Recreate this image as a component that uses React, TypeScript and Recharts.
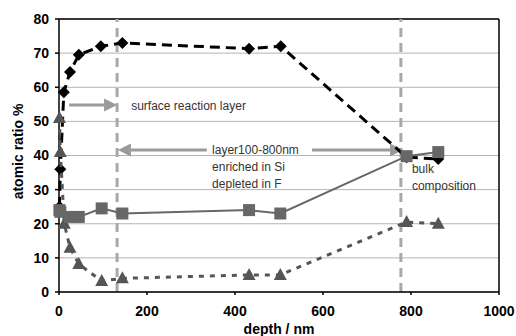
import React from 'react';
import {
  ComposedChart, Scatter, XAxis, YAxis, CartesianGrid, ReferenceLine, ReferenceDot, Label,
} from 'recharts';

// depth (nm) / atomic ratio (%)
const diamondDepth = [1, 3, 11, 25, 45, 95, 144, 432, 504, 790, 862];
const diamondRatio = [25, 36, 58.5, 64.5, 69.5, 72, 73, 71.3, 72, 39.5, 39];

const squareDepth = [1, 3, 25, 45, 97, 144, 432, 503, 790, 862];
const squareRatio = [24, 23.5, 22, 22, 24.5, 23, 24, 23, 39.8, 41];

const triangleDepth = [1, 3, 12, 25, 45, 97, 144, 432, 503, 790, 862];
const triangleRatio = [51, 41, 20, 13, 8.2, 3.2, 4, 5, 5, 20.5, 20];

const xTicks = [0, 200, 400, 600, 800, 1000];
const yTicks = [0, 10, 20, 30, 40, 50, 60, 70, 80];

// annotation layout in data units
const layerBounds = [132, 777];

const toPoints = (xs: number[], ys: number[]) => xs.map((x, i) => ({ x, y: ys[i] }));

const diamondData = toPoints(diamondDepth, diamondRatio);
const squareData = toPoints(squareDepth, squareRatio);
const triangleData = toPoints(triangleDepth, triangleRatio);

const FONT = 'Liberation Sans, Arial, sans-serif';
const ARROW = '#9a9a9a';

const DiamondShape = (p: any) => (
  <polygon
    points={`${p.cx},${p.cy - 6} ${p.cx + 6},${p.cy} ${p.cx},${p.cy + 6} ${p.cx - 6},${p.cy}`}
    fill="#000"
  />
);

const SquareShape = (p: any) => (
  <rect x={p.cx - 6} y={p.cy - 6} width={12} height={12} fill="#676767" />
);

const TriangleShape = (p: any) => (
  <polygon
    points={`${p.cx},${p.cy - 7} ${p.cx + 6.5},${p.cy + 5} ${p.cx - 6.5},${p.cy + 5}`}
    fill="#555"
  />
);

// line with an arrow head at one end
const arrowShape = (head: 'end' | 'start') => (p: any) => {
  const tipX = head === 'end' ? p.x2 : p.x1;
  const dir = head === 'end' ? 1 : -1;
  const baseX = tipX - dir * 13;
  return (
    <g>
      <line
        x1={head === 'end' ? p.x1 : baseX}
        y1={p.y1}
        x2={head === 'end' ? baseX : p.x2}
        y2={p.y2}
        stroke={ARROW}
        strokeWidth={3}
      />
      <polygon points={`${tipX},${p.y1} ${baseX},${p.y1 - 6.5} ${baseX},${p.y1 + 6.5}`} fill={ARROW} />
    </g>
  );
};

const noteShape = (text: string) => (p: any) => (
  <text x={p.cx} y={p.cy} dominantBaseline="central" fontSize={12} fill="#333" fontFamily={FONT}>
    {text}
  </text>
);

const notes = [
  { x: 164, y: 54.6, text: 'surface reaction layer' },
  { x: 348, y: 41.6, text: 'layer100-800nm' },
  { x: 348, y: 36.7, text: 'enriched in Si' },
  { x: 348, y: 31.7, text: 'depleted in F' },
  { x: 802, y: 36, text: 'bulk' },
  { x: 802, y: 31.1, text: 'composition' },
];

const YTitle = (props: any) => {
  const vb = props.viewBox || {};
  const cy = (vb.y ?? 19) + (vb.height ?? 273) / 2 - 4;
  return (
    <text
      x={18}
      y={cy}
      transform={`rotate(-90 18 ${cy})`}
      textAnchor="middle"
      dominantBaseline="central"
      fontSize={14}
      fontWeight="bold"
      fill="#000"
      fontFamily={FONT}
    >
      atomic ratio %
    </text>
  );
};

export default function App() {
  return (
    <div style={{ position: 'absolute', left: 0, top: 0, background: '#fff', fontFamily: FONT }}>
      <ComposedChart width={516} height={336} margin={{ top: 19, right: 17, bottom: 0, left: 0 }}>
        <CartesianGrid vertical={false} stroke="#b4b4b4" strokeWidth={1} />
        <XAxis
          type="number"
          dataKey="x"
          domain={[0, 1000]}
          ticks={xTicks}
          height={44}
          stroke="#000"
          strokeWidth={1.5}
          tickSize={3}
          tickMargin={11}
          tick={{ fill: '#000', fontSize: 14, fontWeight: 'bold', fontFamily: FONT }}
        >
          <Label value="depth / nm" position="insideBottom" offset={2} fill="#000" fontSize={14} fontWeight="bold" />
        </XAxis>
        <YAxis
          type="number"
          dataKey="y"
          domain={[0, 80]}
          ticks={yTicks}
          width={59}
          stroke="#000"
          strokeWidth={1.5}
          tickSize={4}
          tickMargin={6}
          tick={{ fill: '#000', fontSize: 14, fontWeight: 'bold', fontFamily: FONT }}
        >
          <Label content={YTitle} />
        </YAxis>

        <ReferenceLine y={80} stroke="#000" strokeWidth={1.5} />
        <ReferenceLine x={1000} stroke="#000" strokeWidth={1.5} />
        {layerBounds.map((b) => (
          <ReferenceLine key={b} x={b} stroke="#a8a8a8" strokeWidth={3} strokeDasharray="9 6" />
        ))}

        <ReferenceLine segment={[{ x: 23, y: 54.8 }, { x: 132, y: 54.8 }]} shape={arrowShape('end')} />
        <ReferenceLine segment={[{ x: 134, y: 41.6 }, { x: 336, y: 41.6 }]} shape={arrowShape('start')} />
        <ReferenceLine segment={[{ x: 575, y: 41.6 }, { x: 782, y: 41.6 }]} shape={arrowShape('end')} />

        {notes.map((n) => (
          <ReferenceDot key={n.text} x={n.x} y={n.y} r={0} shape={noteShape(n.text)} />
        ))}

        <Scatter
          data={diamondData}
          line={{ stroke: '#000', strokeWidth: 3, strokeDasharray: '10 6' }}
          shape={DiamondShape}
          isAnimationActive={false}
        />
        <Scatter
          data={triangleData}
          line={{ stroke: '#555', strokeWidth: 3, strokeDasharray: '5 6' }}
          shape={TriangleShape}
          isAnimationActive={false}
        />
        <Scatter
          data={squareData}
          line={{ stroke: '#676767', strokeWidth: 2 }}
          shape={SquareShape}
          isAnimationActive={false}
        />
      </ComposedChart>
    </div>
  );
}
